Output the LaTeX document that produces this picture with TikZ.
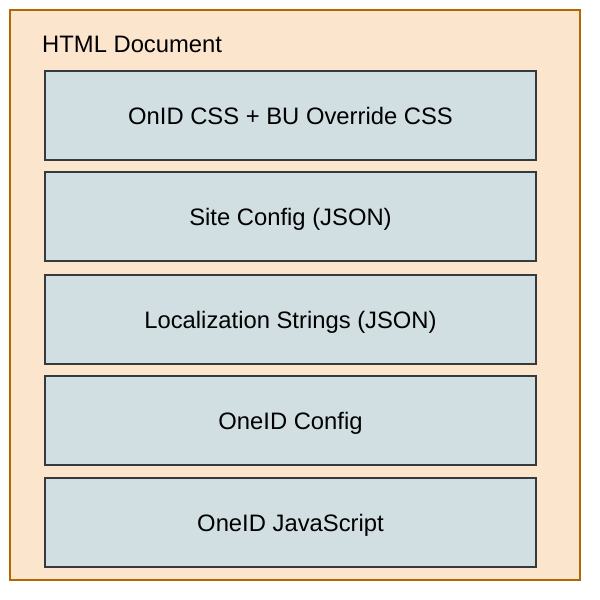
\documentclass[tikz,border=0pt]{standalone}
\usepackage{fontspec}
\setmainfont{Liberation Sans}
\definecolor{outerfill}{HTML}{FCE5CD}
\definecolor{outerdraw}{HTML}{B46504}
\definecolor{innerfill}{HTML}{D1DFE3}
\definecolor{innerdraw}{HTML}{36393D}
\begin{document}
\begin{tikzpicture}[x=1pt,y=-1pt,
  container/.style={draw=outerdraw,fill=outerfill,line width=2pt},
  layer/.style={draw=innerdraw,fill=innerfill,line width=2pt,rectangle,minimum width=491pt,minimum height=89pt,inner sep=0pt,text height=21pt,text depth=3pt,font=\fontsize{23.8}{28}\selectfont},
  title/.style={anchor=base west,inner sep=0pt,font=\fontsize{23.8}{28}\selectfont}]
\useasboundingbox (0,0) rectangle (600,600);
\draw[container] (10,10) rectangle (580,580);
\node[title] (t) at (42,52) {HTML Document};
\node[layer] (l1) at (290.5,115.5) {OnID CSS + BU Override CSS};
\node[layer] (l2) at (290.5,216.5) {Site Config (JSON)};
\node[layer] (l3) at (290.5,319.5) {Localization Strings (JSON)};
\node[layer] (l4) at (290.5,420.5) {OneID Config};
\node[layer] (l5) at (290.5,522) {OneID JavaScript};
\end{tikzpicture}
\end{document}
